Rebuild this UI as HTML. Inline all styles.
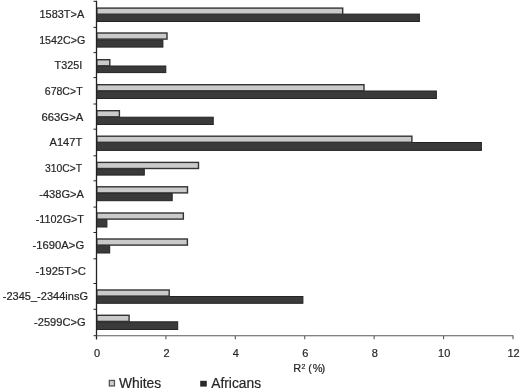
<!DOCTYPE html><html><head><meta charset="utf-8"><title>R2 chart</title><style>html,body{margin:0;padding:0;background:#fff}svg{display:block}text{font-family:"Liberation Sans",Arial,sans-serif;fill:#262626;stroke:#262626;stroke-width:0.2px}</style></head><body>
<svg width="520" height="389" viewBox="0 0 520 389">
<rect width="520" height="389" fill="#fff"/>
<rect x="96.5" y="14.10" width="322.90" height="7.40" fill="#3a3a3a" stroke="#242424" stroke-width="1"/>
<rect x="96.8" y="8.10" width="245.90" height="6.1" fill="#cacaca" stroke="#333" stroke-width="1.4"/>
<text class="lab" x="84.20" y="17.90" font-size="11" text-anchor="end" textLength="44.65" lengthAdjust="spacingAndGlyphs">1583T&gt;A</text>
<line x1="93.5" x2="96.5" y1="1.30" y2="1.30" stroke="#222" stroke-width="1"/>
<rect x="96.5" y="39.80" width="66.40" height="7.30" fill="#3a3a3a" stroke="#242424" stroke-width="1"/>
<rect x="96.8" y="33.00" width="70.20" height="6.1" fill="#cacaca" stroke="#333" stroke-width="1.4"/>
<text class="lab" x="85.30" y="43.56" font-size="11" text-anchor="end" textLength="46.17" lengthAdjust="spacingAndGlyphs">1542C&gt;G</text>
<line x1="93.5" x2="96.5" y1="27.40" y2="27.40" stroke="#222" stroke-width="1"/>
<rect x="96.5" y="66.00" width="69.30" height="6.60" fill="#3a3a3a" stroke="#242424" stroke-width="1"/>
<rect x="96.8" y="59.70" width="13.00" height="6.1" fill="#cacaca" stroke="#333" stroke-width="1.4"/>
<text class="lab" x="82.20" y="69.22" font-size="11" text-anchor="end" textLength="27.62" lengthAdjust="spacingAndGlyphs">T325I</text>
<line x1="93.5" x2="96.5" y1="52.60" y2="52.60" stroke="#222" stroke-width="1"/>
<rect x="96.5" y="91.00" width="339.90" height="7.50" fill="#3a3a3a" stroke="#242424" stroke-width="1"/>
<rect x="96.8" y="84.70" width="267.20" height="6.1" fill="#cacaca" stroke="#333" stroke-width="1.4"/>
<text class="lab" x="82.60" y="94.88" font-size="11" text-anchor="end" textLength="37.83" lengthAdjust="spacingAndGlyphs">678C&gt;T</text>
<line x1="93.5" x2="96.5" y1="77.60" y2="77.60" stroke="#222" stroke-width="1"/>
<rect x="96.5" y="117.20" width="116.75" height="7.30" fill="#3a3a3a" stroke="#242424" stroke-width="1"/>
<rect x="96.8" y="110.70" width="22.60" height="6.1" fill="#cacaca" stroke="#333" stroke-width="1.4"/>
<text class="lab" x="83.30" y="120.54" font-size="11" text-anchor="end" textLength="41.79" lengthAdjust="spacingAndGlyphs">663G&gt;A</text>
<line x1="93.5" x2="96.5" y1="104.00" y2="104.00" stroke="#222" stroke-width="1"/>
<rect x="96.5" y="142.50" width="384.90" height="7.90" fill="#3a3a3a" stroke="#242424" stroke-width="1"/>
<rect x="96.8" y="136.20" width="315.10" height="6.1" fill="#cacaca" stroke="#333" stroke-width="1.4"/>
<text class="lab" x="82.20" y="146.20" font-size="11" text-anchor="end" textLength="32.73" lengthAdjust="spacingAndGlyphs">A147T</text>
<line x1="93.5" x2="96.5" y1="129.20" y2="129.20" stroke="#222" stroke-width="1"/>
<rect x="96.5" y="168.80" width="47.80" height="6.30" fill="#3a3a3a" stroke="#242424" stroke-width="1"/>
<rect x="96.8" y="162.40" width="101.70" height="6.1" fill="#cacaca" stroke="#333" stroke-width="1.4"/>
<text class="lab" x="82.20" y="171.86" font-size="11" text-anchor="end" textLength="37.13" lengthAdjust="spacingAndGlyphs">310C&gt;T</text>
<line x1="93.5" x2="96.5" y1="155.80" y2="155.80" stroke="#222" stroke-width="1"/>
<rect x="96.5" y="193.50" width="75.70" height="7.20" fill="#3a3a3a" stroke="#242424" stroke-width="1"/>
<rect x="96.8" y="186.80" width="90.70" height="6.1" fill="#cacaca" stroke="#333" stroke-width="1.4"/>
<text class="lab" x="84.00" y="197.52" font-size="11" text-anchor="end" textLength="44.75" lengthAdjust="spacingAndGlyphs">-438G&gt;A</text>
<line x1="93.5" x2="96.5" y1="180.80" y2="180.80" stroke="#222" stroke-width="1"/>
<rect x="96.5" y="219.50" width="10.40" height="7.50" fill="#3a3a3a" stroke="#242424" stroke-width="1"/>
<rect x="96.8" y="213.00" width="86.55" height="6.1" fill="#cacaca" stroke="#333" stroke-width="1.4"/>
<text class="lab" x="84.00" y="223.18" font-size="11" text-anchor="end" textLength="48.23" lengthAdjust="spacingAndGlyphs">-1102G&gt;T</text>
<line x1="93.5" x2="96.5" y1="207.10" y2="207.10" stroke="#222" stroke-width="1"/>
<rect x="96.5" y="245.30" width="13.20" height="7.70" fill="#3a3a3a" stroke="#242424" stroke-width="1"/>
<rect x="96.8" y="239.00" width="90.60" height="6.1" fill="#cacaca" stroke="#333" stroke-width="1.4"/>
<text class="lab" x="84.20" y="248.84" font-size="11" text-anchor="end" textLength="51.69" lengthAdjust="spacingAndGlyphs">-1690A&gt;G</text>
<line x1="93.5" x2="96.5" y1="232.50" y2="232.50" stroke="#222" stroke-width="1"/>
<text class="lab" x="85.90" y="274.50" font-size="11" text-anchor="end" textLength="50.26" lengthAdjust="spacingAndGlyphs">-1925T&gt;C</text>
<line x1="93.5" x2="96.5" y1="258.80" y2="258.80" stroke="#222" stroke-width="1"/>
<rect x="96.5" y="296.50" width="206.40" height="6.80" fill="#3a3a3a" stroke="#242424" stroke-width="1"/>
<rect x="96.8" y="290.00" width="72.40" height="6.1" fill="#cacaca" stroke="#333" stroke-width="1.4"/>
<text class="lab" x="88.00" y="300.16" font-size="11" text-anchor="end" textLength="85.22" lengthAdjust="spacingAndGlyphs">-2345_-2344insG</text>
<line x1="93.5" x2="96.5" y1="283.50" y2="283.50" stroke="#222" stroke-width="1"/>
<rect x="96.5" y="321.80" width="81.20" height="7.70" fill="#3a3a3a" stroke="#242424" stroke-width="1"/>
<rect x="96.8" y="315.30" width="32.30" height="6.1" fill="#cacaca" stroke="#333" stroke-width="1.4"/>
<text class="lab" x="85.60" y="325.82" font-size="11" text-anchor="end" textLength="51.57" lengthAdjust="spacingAndGlyphs">-2599C&gt;G</text>
<line x1="93.5" x2="96.5" y1="309.30" y2="309.30" stroke="#222" stroke-width="1"/>
<line x1="93.6" x2="96.5" y1="335.70" y2="335.70" stroke="#222" stroke-width="1"/>
<line x1="96.5" x2="96.5" y1="0.7" y2="339.50" stroke="#222" stroke-width="1.3"/>
<line x1="96.5" x2="513.4" y1="335.70" y2="335.70" stroke="#5a5a5a" stroke-width="1.1"/>
<text x="97.10" y="357" font-size="11" text-anchor="middle">0</text>
<line x1="165.92" x2="165.92" y1="335.70" y2="339.20" stroke="#5a5a5a" stroke-width="1.1"/>
<text x="166.52" y="357" font-size="11" text-anchor="middle">2</text>
<line x1="235.33" x2="235.33" y1="335.70" y2="339.20" stroke="#5a5a5a" stroke-width="1.1"/>
<text x="235.93" y="357" font-size="11" text-anchor="middle">4</text>
<line x1="304.75" x2="304.75" y1="335.70" y2="339.20" stroke="#5a5a5a" stroke-width="1.1"/>
<text x="305.35" y="357" font-size="11" text-anchor="middle">6</text>
<line x1="374.17" x2="374.17" y1="335.70" y2="339.20" stroke="#5a5a5a" stroke-width="1.1"/>
<text x="374.77" y="357" font-size="11" text-anchor="middle">8</text>
<line x1="443.58" x2="443.58" y1="335.70" y2="339.20" stroke="#5a5a5a" stroke-width="1.1"/>
<text x="444.18" y="357" font-size="11" text-anchor="middle">10</text>
<line x1="513.00" x2="513.00" y1="335.70" y2="339.20" stroke="#5a5a5a" stroke-width="1.1"/>
<text x="513.60" y="357" font-size="11" text-anchor="middle">12</text>
<text x="293.3" y="372.3" font-size="11">R</text>
<text x="301.5" y="369.1" font-size="7" >2</text>
<text x="308.2" y="372.3" font-size="11">(<tspan dx="0.9">%</tspan><tspan dx="-1.1">)</tspan></text>
<rect x="109.35" y="380.45" width="5.1" height="5.5" fill="#cfcfcf" stroke="#555" stroke-width="1.3"/>
<text x="119" y="388.3" font-size="13.8">Whites</text>
<rect x="200.2" y="380.8" width="6.6" height="5.8" fill="#2a2a2a"/>
<text x="211.2" y="388.3" font-size="13.8">Africans</text>
</svg></body></html>
